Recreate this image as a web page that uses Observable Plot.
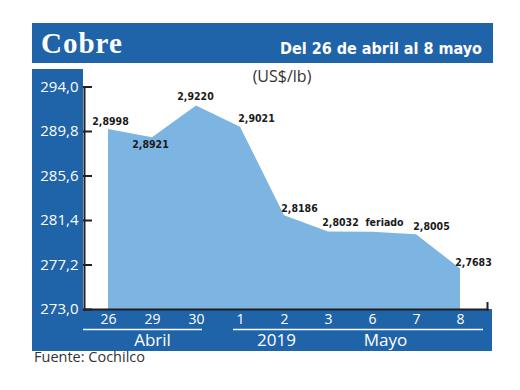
<!DOCTYPE html>
<html>
<head>
<meta charset="utf-8">
<script src="https://cdn.jsdelivr.net/npm/d3@7"></script>
<script src="https://cdn.jsdelivr.net/npm/@observablehq/plot@0.6"></script>
<style>
  html, body { margin: 0; padding: 0; background: #ffffff; }
  #wrap { position: relative; width: 520px; height: 390px; overflow: hidden; }
  #wrap svg { position: absolute; left: 0; top: 0; }
  .narrow, .narrow text { font-stretch: condensed; }
</style>
</head>
<body>
<div id="wrap"></div>
<script>
// ---- data ----
const days = ["26", "29", "30", "1", "2", "3", "6", "7", "8"];
const prices = [2.8998, 2.8921, 2.9220, 2.9021, 2.8186, 2.8032, 2.8030, 2.8005, 2.7683]; // US$/lb (6 = feriado, estimated)
const notes = [null, null, null, null, null, null, "feriado", null, null];
const yTicks = [273.0, 277.2, 281.4, 285.6, 289.8, 294.0];
const groupLabels = ["Abril", "2019", "Mayo"];
const groupAt = ["29", "2", "6"];
const title = "Cobre";
const subtitle = "Del 26 de abril al 8 mayo";
const unit = "(US$/lb)";
const source = "Fuente: Cochilco";

const data = days.map((d, i) => ({
  day: d,
  value: prices[i] * 100,
  label: notes[i] ?? prices[i].toFixed(4).replace(".", ",")
}));

// ---- style ----
const BLUE = "#1f63a8";
const AREA = "#7cb4e2";
const INK = "#231f20";
const NARROW = "'DejaVu Sans', sans-serif";
const comma1 = (v) => v.toFixed(1).replace(".", ",");

// background decoration
const wrap = d3.select("#wrap");
const bg = wrap.append("svg").attr("width", 520).attr("height", 390);
bg.append("rect").attr("x", 32).attr("y", 23).attr("width", 461).attr("height", 40).attr("fill", BLUE);
bg.append("rect").attr("x", 32).attr("y", 69).attr("width", 51).attr("height", 282).attr("fill", BLUE);
bg.append("rect").attr("x", 32).attr("y", 309).attr("width", 460).attr("height", 42).attr("fill", BLUE);
bg.append("text").attr("x", 41).attr("y", 53).attr("fill", "#fff")
  .style("font-family", "'Liberation Serif', serif").style("font-weight", "bold")
  .style("font-size", "29px").style("letter-spacing", "1px").text(title);
bg.append("text").attr("class", "narrow").attr("x", 482).attr("y", 54).attr("text-anchor", "end").attr("fill", "#fff")
  .style("font-family", NARROW).style("font-weight", "bold")
  .style("font-size", "16px").text(subtitle);
bg.append("text").attr("x", 282).attr("y", 82).attr("text-anchor", "middle").attr("fill", "#333")
  .style("font-family", "'Open Sans', sans-serif").style("font-size", "16px").text(unit);
bg.append("text").attr("x", 34).attr("y", 362).attr("fill", "#333")
  .style("font-family", "'Open Sans', sans-serif").style("font-size", "14.5px").text(source);

// per-label offsets (layout)
const labelOffsets = [[2, -8], [-2, 7], [-1, -9], [16, -9], [15, -7], [12, -9], [12, -10], [15, -8], [13, -6]];

const labelMarks = data.map((d, i) => Plot.text([d], {
  x: "day", y: "value", text: "label",
  dx: labelOffsets[i][0], dy: labelOffsets[i][1],
  fill: "#1a1a1a", fontSize: 10.5, fontWeight: "bold", fontFamily: NARROW, className: "narrow"
}));

const groupDx = [0, -8, 13];
const groupMarks = groupLabels.map((g, i) => Plot.text([g], {
  x: () => groupAt[i], text: (d) => d, frameAnchor: "bottom",
  dx: groupDx[i], dy: 31, fill: "#fff", fontSize: 17, lineAnchor: "middle"
}));

const chart = Plot.plot({
  width: 520,
  height: 390,
  marginTop: 86.5,
  marginBottom: 81,
  marginLeft: 84,
  marginRight: 33,
  style: { background: "transparent", fontFamily: "'Open Sans', sans-serif", overflow: "visible" },
  x: { type: "point", domain: days, range: [104, 463], padding: 0, axis: null },
  y: { domain: [273, 294], axis: null },
  marks: [
    Plot.areaY(data, { x: "day", y1: 273, y2: "value", fill: AREA }),
    Plot.frame({ anchor: "left", stroke: INK, strokeWidth: 2 }),
    Plot.frame({ anchor: "bottom", stroke: INK, strokeWidth: 2 }),
    Plot.frame({ anchor: "right", stroke: INK, strokeWidth: 2, insetTop: 216 }),
    Plot.ruleY(yTicks, { stroke: INK, strokeWidth: 2, insetLeft: -1, insetRight: 395 }),
    Plot.axisY({ ticks: yTicks, tickSize: 0, tickPadding: 6, tickFormat: comma1, fill: "#fff", fontSize: 15, label: null }),
    Plot.axisX({ tickSize: 0, tickPadding: 5, fill: "#fff", fontSize: 14, label: null }),
    Plot.ruleY([273], { dy: 20, stroke: "#fff", strokeWidth: 1.5, insetLeft: -1, insetRight: 285 }),
    Plot.ruleY([273], { dy: 20, stroke: "#fff", strokeWidth: 1.5, insetLeft: 149, insetRight: 4 }),
    ...groupMarks,
    ...labelMarks
  ]
});
wrap.node().appendChild(chart);
</script>
</body>
</html>
